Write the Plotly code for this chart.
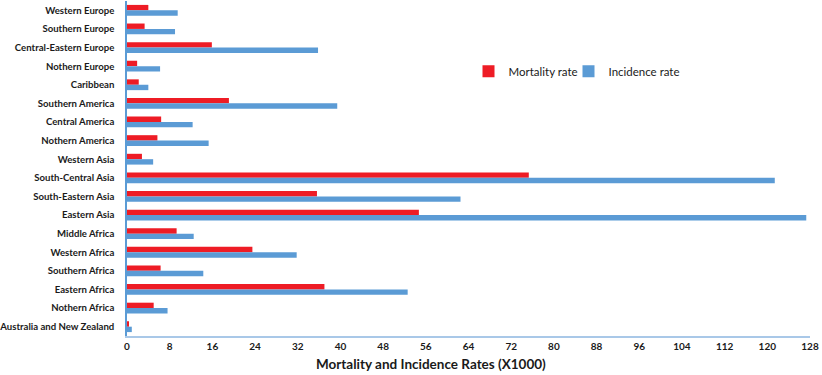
import plotly.graph_objects as go

regions = [
    "Western Europe", "Southern Europe", "Central-Eastern Europe", "Nothern Europe",
    "Caribbean", "Southern America", "Central America", "Nothern America",
    "Western Asia", "South-Central Asia", "South-Eastern Asia", "Eastern Asia",
    "Middle Africa", "Western Africa", "Southern Africa", "Eastern Africa",
    "Nothern Africa", "Australia and New Zealand",
]
mortality = [4.0, 3.3, 15.9, 1.9, 2.2, 19.1, 6.4, 5.7, 2.8, 75.3, 35.6, 54.7,
             9.3, 23.5, 6.3, 37.0, 5.0, 0.2]
incidence = [9.5, 9.0, 35.8, 6.2, 4.0, 39.4, 12.3, 15.3, 4.9, 121.4, 62.5, 127.3,
             12.5, 31.8, 14.3, 52.6, 7.6, 0.9]
xticks = list(range(0, 129, 8))
x_title = "Mortality and Incidence Rates (X1000)"

RED = "#ee1c25"
BLUE = "#5b9bd5"
FONT = "Lato"
TXT = "#1a1a1a"

fig = go.Figure()
fig.add_trace(go.Bar(y=regions, x=mortality, orientation="h", name="Mortality rate",
                     marker=dict(color=RED, line=dict(width=0))))
fig.add_trace(go.Bar(y=regions, x=incidence, orientation="h", name="Incidence rate",
                     marker=dict(color=BLUE, line=dict(width=0))))
# invisible spacer entry so the last legend label is not clipped
fig.add_trace(go.Scatter(x=[None], y=[None], mode="markers", name=" ", opacity=0,
                         marker=dict(color="rgba(0,0,0,0)", size=1,
                                     line=dict(width=0)),
                         hoverinfo="skip"))

fig.update_layout(
    width=822, height=375,
    margin=dict(l=127, r=12, t=1, b=39, autoexpand=False),
    paper_bgcolor="white", plot_bgcolor="white",
    barmode="group", bargap=0.42, bargroupgap=0,
    font=dict(family=FONT, color=TXT),
    legend=dict(orientation="h", x=0.5, y=0.79, xanchor="left", yanchor="middle",
                font=dict(family=FONT, size=11.5, color=TXT),
                itemwidth=30, entrywidth=55, bgcolor="rgba(0,0,0,0)"),
    xaxis=dict(range=[0, 128], tickvals=xticks, ticktext=[f"<b>{t}</b>" for t in xticks],
               showgrid=False, zeroline=False, showline=True, linecolor="#a9c8e8",
               linewidth=1.5, ticks="", automargin=False,
               tickfont=dict(family=FONT, size=10, color=TXT)),
    yaxis=dict(autorange="reversed", showgrid=False, zeroline=False, showline=True,
               linecolor=BLUE, linewidth=1.5, ticks="", automargin=False,
               ticklabelstandoff=9,
               tickfont=dict(family=FONT, size=9.6, color=TXT),
               tickprefix="<b>", ticksuffix="</b>"),
    annotations=[dict(text=f"<b>{x_title}</b>", xref="paper", yref="paper",
                      x=0.445, y=-0.085, xanchor="center", yanchor="middle",
                      showarrow=False, font=dict(family=FONT, size=13.5, color=TXT))],
)

fig.write_html("out.html", config={"displayModeBar": False},
               post_script="document.body.style.margin='0';")
